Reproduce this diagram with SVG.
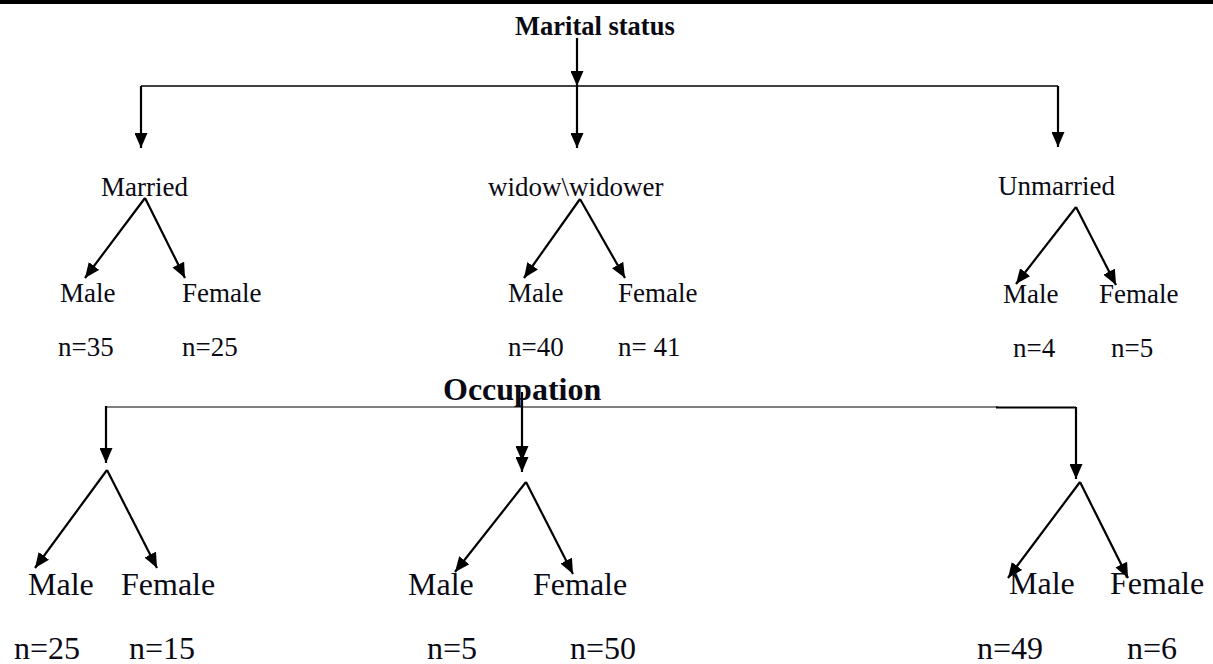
<svg xmlns="http://www.w3.org/2000/svg" width="1213" height="664" viewBox="0 0 1213 664">
<style>
  .t { font-family: "Liberation Serif", "Times New Roman", serif; fill: #0a0a14; }
  .s { font-size: 27px; }
  .b { font-size: 32px; }
  .h { font-weight: bold; }
  .ln { stroke: #000; stroke-width: 2.2; fill: none; }
  .hl { stroke: #000; stroke-width: 1.5; fill: none; }
  .gl { stroke: #808080; stroke-width: 2; fill: none; }
</style>
<defs>
  <marker id="ah" viewBox="0 0 15 13" markerUnits="userSpaceOnUse" markerWidth="15" markerHeight="13" refX="15" refY="6.5" orient="auto">
    <path d="M0,0 L15,6.5 L0,13 z" fill="#000"/>
  </marker>
</defs>
<rect x="0" y="0" width="1213" height="4" fill="#000"/>

<g id="connectors">
  <line class="ln" x1="577" y1="38" x2="577" y2="86" marker-end="url(#ah)"/>
  <line class="hl" x1="141" y1="86" x2="1058" y2="86"/>
  <line class="ln" x1="141" y1="86" x2="141" y2="148" marker-end="url(#ah)"/>
  <line class="ln" x1="577" y1="86" x2="577" y2="148" marker-end="url(#ah)"/>
  <line class="ln" x1="1058" y1="86" x2="1058" y2="147" marker-end="url(#ah)"/>

  <line class="ln" x1="145" y1="198" x2="85" y2="278" marker-end="url(#ah)"/>
  <line class="ln" x1="145" y1="198" x2="185" y2="278" marker-end="url(#ah)"/>
  <line class="ln" x1="580" y1="199" x2="524" y2="278" marker-end="url(#ah)"/>
  <line class="ln" x1="580" y1="199" x2="625" y2="278" marker-end="url(#ah)"/>
  <line class="ln" x1="1076" y1="207" x2="1016" y2="284" marker-end="url(#ah)"/>
  <line class="ln" x1="1076" y1="207" x2="1116" y2="285" marker-end="url(#ah)"/>

  <line class="gl" x1="106" y1="407" x2="998" y2="407"/>
  <line class="ln" x1="996" y1="407.5" x2="1076" y2="407.5"/>
  <line class="ln" x1="106" y1="406" x2="106" y2="463" marker-end="url(#ah)"/>
  <path class="ln" d="M522,392 L522,461 L522,472" marker-mid="url(#ah)" marker-end="url(#ah)"/>
  <line class="ln" x1="1076" y1="407" x2="1076" y2="479" marker-end="url(#ah)"/>

  <line class="ln" x1="107" y1="470" x2="35" y2="568" marker-end="url(#ah)"/>
  <line class="ln" x1="107" y1="470" x2="157" y2="568" marker-end="url(#ah)"/>
  <line class="ln" x1="526" y1="482" x2="455" y2="572" marker-end="url(#ah)"/>
  <line class="ln" x1="526" y1="482" x2="573" y2="574" marker-end="url(#ah)"/>
  <line class="ln" x1="1080" y1="482" x2="1008" y2="578" marker-end="url(#ah)"/>
  <line class="ln" x1="1080" y1="482" x2="1128" y2="578" marker-end="url(#ah)"/>
</g>

<g id="marital-status"><text class="t h" x="515" y="35" font-size="26.5">Marital status</text></g>

<g id="married"><text class="t s" x="101" y="196">Married</text></g>
<g id="married-male"><text class="t s" x="60" y="302">Male</text><text class="t s" x="58" y="356">n=35</text></g>
<g id="married-female"><text class="t s" x="182" y="302">Female</text><text class="t s" x="182" y="356">n=25</text></g>

<g id="widow"><text class="t s" x="488" y="196">widow\widower</text></g>
<g id="widow-male"><text class="t s" x="508" y="302">Male</text><text class="t s" x="508" y="356">n=40</text></g>
<g id="widow-female"><text class="t s" x="618" y="302">Female</text><text class="t s" x="618" y="356">n= 41</text></g>

<g id="unmarried"><text class="t s" x="998" y="195">Unmarried</text></g>
<g id="unmarried-male"><text class="t s" x="1003" y="303">Male</text><text class="t s" x="1013" y="357">n=4</text></g>
<g id="unmarried-female"><text class="t s" x="1099" y="303">Female</text><text class="t s" x="1111" y="357">n=5</text></g>

<g id="occupation"><text class="t h" x="443" y="400" font-size="32">Occupation</text></g>

<g id="occ1-male"><text class="t b" x="28" y="595">Male</text><text class="t b" x="14" y="659">n=25</text></g>
<g id="occ1-female"><text class="t b" x="121" y="595">Female</text><text class="t b" x="129" y="659">n=15</text></g>

<g id="occ2-male"><text class="t b" x="408" y="595">Male</text><text class="t b" x="427" y="659">n=5</text></g>
<g id="occ2-female"><text class="t b" x="533" y="595">Female</text><text class="t b" x="570" y="659">n=50</text></g>

<g id="occ3-male"><text class="t b" x="1009" y="594">Male</text><text class="t b" x="977" y="659">n=49</text></g>
<g id="occ3-female"><text class="t b" x="1110" y="594">Female</text><text class="t b" x="1127" y="659">n=6</text></g>
</svg>
